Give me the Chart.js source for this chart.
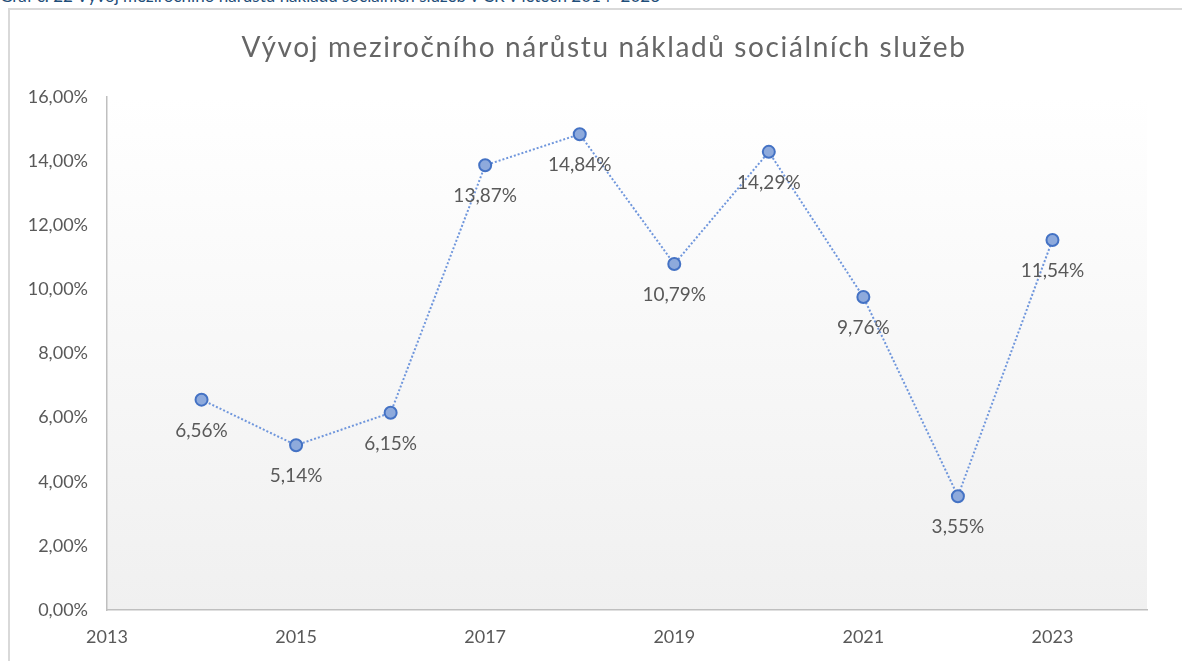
<!DOCTYPE html>
<html>
<head>
<meta charset="utf-8">
<script src="https://cdn.jsdelivr.net/npm/chart.js@4/dist/chart.umd.min.js"></script>
<style>
  html, body { margin: 0; padding: 0; background: #fff; overflow: hidden; }
  body { width: 1182px; height: 661px; position: relative; }
  #caption { position: absolute; left: 0; top: -13px; font-family: Lato, "Liberation Sans", sans-serif; font-size: 17px; line-height: 17px; color: #1f4e79; white-space: nowrap; }
  #frame { position: absolute; left: 8px; top: 8px; width: 1200px; height: 700px; border-top: 2px solid #d9d9d9; border-left: 2px solid #d9d9d9; box-sizing: border-box; }
  #wrap { position: absolute; left: 0; top: 0; width: 1182px; height: 661px; }
</style>
</head>
<body>
<div id="caption">Graf č. 22 Vývoj meziročního nárůstu nákladů sociálních služeb v ČR v letech 2014–2023</div>
<div id="frame"></div>
<div id="wrap"><canvas id="c" width="1182" height="661"></canvas></div>
<script>
const chartTitle = "Vývoj meziročního nárůstu nákladů sociálních služeb";
const years = [2014, 2015, 2016, 2017, 2018, 2019, 2020, 2021, 2022, 2023];
const growth = [6.56, 5.14, 6.15, 13.87, 14.84, 10.79, 14.29, 9.76, 3.55, 11.54];
const xTicks = [2013, 2015, 2017, 2019, 2021, 2023];
const yTicks = [0, 2, 4, 6, 8, 10, 12, 14, 16];

const fmt = v => v.toFixed(2).replace('.', ',') + '%';
const FONT = 'Lato, "Liberation Sans", sans-serif';

const bgPlugin = {
  id: 'bg',
  beforeDraw(chart) {
    const { ctx, chartArea: a } = chart;
    const g = ctx.createLinearGradient(0, a.top, 0, a.bottom);
    g.addColorStop(0, '#ffffff');
    g.addColorStop(1, '#f0f0f0');
    ctx.save();
    ctx.fillStyle = g;
    ctx.fillRect(a.left, a.top, a.right - a.left, a.bottom - a.top);
    ctx.restore();
  }
};

const titlePlugin = {
  id: 'customTitle',
  afterDraw(chart) {
    const { ctx } = chart;
    ctx.save();
    ctx.font = '28px ' + FONT;
    ctx.fillStyle = '#666666';
    ctx.textAlign = 'center';
    ctx.textBaseline = 'middle';
    const w = ctx.measureText(chartTitle).width;
    const target = 725;
    ctx.letterSpacing = Math.max(0, (target - w) / chartTitle.length) + 'px';
    ctx.fillText(chartTitle, 604, 48);
    ctx.restore();
  }
};

const labelPlugin = {
  id: 'labels',
  afterDatasetsDraw(chart) {
    const { ctx } = chart;
    const meta = chart.getDatasetMeta(0);
    ctx.save();
    ctx.font = '19px ' + FONT;
    ctx.fillStyle = '#595959';
    ctx.textAlign = 'center';
    ctx.textBaseline = 'middle';
    meta.data.forEach((pt, i) => {
      ctx.fillText(fmt(growth[i]), pt.x, pt.y + 31);
    });
    ctx.restore();
  }
};

new Chart(document.getElementById('c'), {
  type: 'line',
  data: {
    datasets: [{
      data: years.map((y, i) => ({ x: y, y: growth[i] })),
      borderColor: '#6f96dc',
      borderWidth: 2,
      borderDash: [2, 2],
      pointRadius: 6,
      pointBackgroundColor: '#8eaadc',
      pointBorderColor: '#4472c4',
      pointBorderWidth: 2,
      fill: false,
      tension: 0
    }]
  },
  options: {
    responsive: false,
    animation: false,
    layout: { padding: { left: 0, right: 35, top: 97, bottom: 0 } },
    plugins: {
      legend: { display: false },
      tooltip: { enabled: false },
      title: { display: false }
    },
    scales: {
      x: {
        type: 'linear',
        min: 2013,
        max: 2024,
        afterBuildTicks: s => { s.ticks = xTicks.map(v => ({ value: v })); },
        afterFit: s => { s.height = 51; },
        grid: { display: false, drawTicks: false },
        border: { display: true, color: '#bfbfbf', width: 1.5 },
        ticks: {
          color: '#595959',
          font: { family: FONT, size: 18 },
          padding: 16,
          maxRotation: 0,
          callback: v => String(v)
        }
      },
      y: {
        min: 0,
        max: 16,
        afterBuildTicks: s => { s.ticks = yTicks.map(v => ({ value: v })); },
        afterFit: s => { s.width = 107; },
        grid: { display: false, drawTicks: false },
        border: { display: true, color: '#bfbfbf', width: 1.5 },
        ticks: {
          color: '#595959',
          font: { family: FONT, size: 18 },
          padding: 19,
          callback: v => fmt(v)
        }
      }
    }
  },
  plugins: [bgPlugin, titlePlugin, labelPlugin]
});
</script>
</body>
</html>
